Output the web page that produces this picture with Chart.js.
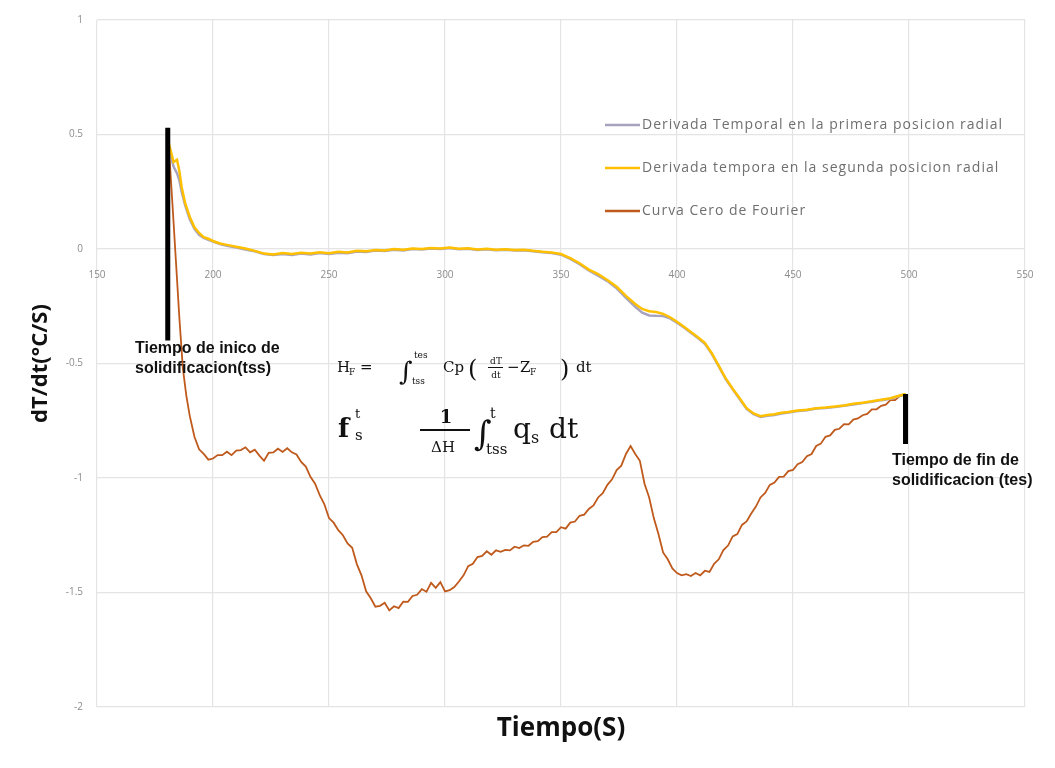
<!DOCTYPE html>
<html>
<head>
<meta charset="utf-8">
<title>Derivada temporal y curva cero de Fourier</title>
<script src="https://cdn.jsdelivr.net/npm/chart.js@4.4.1/dist/chart.umd.min.js"></script>
<style>
  html, body { margin: 0; padding: 0; background: #fff; }
  #grafica { display: block; }
</style>
</head>
<body>
<canvas id="grafica" width="1055" height="768"></canvas>
<script>
// tiempo (s) para las dos derivadas
const tDerivada = [180.3, 181.5, 183, 184.5, 185.5, 186.5, 188, 190, 192, 194, 196, 198, 200, 203, 206, 210,
  214, 218, 222, 226, 230, 234, 238, 242, 246, 250, 254, 258, 262, 266, 270, 274, 278, 282, 286, 290, 294, 298,
  302, 306, 310, 314, 318, 322, 326, 330, 334, 338, 342, 346, 350, 354, 358, 362, 366, 370, 374, 378, 382, 385,
  388, 391, 394, 397, 400, 403, 406, 409, 412, 415, 418, 421, 424, 427, 430, 433, 436, 439, 442, 445, 448, 452,
  456, 460, 464, 468, 472, 476, 480, 484, 488, 492, 496, 498.5];

// dT/dt en la primera posicion radial
const derivadaPos1 = [0.47, 0.42, 0.36, 0.33, 0.3, 0.25, 0.19, 0.13, 0.088, 0.062, 0.048, 0.04, 0.032, 0.022, 0.014, 0.006,
  -0.002, -0.01, -0.022, -0.026, -0.022, -0.026, -0.02, -0.024, -0.018, -0.022, -0.016, -0.018, -0.011, -0.013, -0.007, -0.009, -0.003, -0.006, 0.0, -0.002, 0.002, 0.0,
  0.004, -0.001, 0.001, -0.004, -0.001, -0.005, -0.003, -0.006, -0.005, -0.01, -0.014, -0.018, -0.025, -0.043, -0.066, -0.094, -0.116, -0.14, -0.172, -0.213, -0.252, -0.278,
  -0.29, -0.292, -0.293, -0.303, -0.322, -0.343, -0.366, -0.389, -0.414, -0.458, -0.513, -0.568, -0.613, -0.655, -0.698, -0.721, -0.733, -0.728, -0.725, -0.718, -0.714, -0.707,
  -0.704, -0.697, -0.694, -0.69, -0.685, -0.679, -0.673, -0.667, -0.66, -0.654, -0.642, -0.635];

// dT/dt en la segunda posicion radial
const derivadaPos2 = [0.49, 0.44, 0.38, 0.39, 0.34, 0.27, 0.2, 0.14, 0.095, 0.07, 0.052, 0.045, 0.035, 0.024, 0.018, 0.01,
  0.002, -0.008, -0.02, -0.024, -0.018, -0.022, -0.016, -0.02, -0.014, -0.018, -0.012, -0.015, -0.008, -0.01, -0.004, -0.006, 0.0, -0.003, 0.002, 0.0, 0.004, 0.002,
  0.006, 0.001, 0.003, -0.002, 0.001, -0.003, -0.001, -0.004, -0.003, -0.008, -0.012, -0.015, -0.022, -0.04, -0.062, -0.09, -0.11, -0.135, -0.165, -0.205, -0.24, -0.262,
  -0.272, -0.275, -0.283, -0.298, -0.318, -0.34, -0.362, -0.385, -0.41, -0.455, -0.51, -0.565, -0.61, -0.652, -0.695, -0.718, -0.73, -0.725, -0.722, -0.715, -0.712, -0.705,
  -0.702, -0.695, -0.692, -0.688, -0.683, -0.676, -0.671, -0.665, -0.658, -0.652, -0.64, -0.633];

// tiempo (s) y valores de la curva cero de Fourier
const tFourier = [181, 182.5, 184, 185.5, 187, 188.5, 190, 192, 194, 196, 198, 200, 202, 204, 206, 208, 210, 212, 214, 216,
  218, 220, 222, 224, 226, 228, 230, 232, 234, 236, 238, 240, 242, 244, 246, 248, 250, 252, 254, 256, 258, 260, 262, 264,
  266, 268, 270, 272, 274, 276, 278, 280, 282, 284, 286, 288, 290, 292, 294, 296, 298, 300, 302, 304, 306, 308, 310, 312,
  314, 316, 318, 320, 322, 324, 326, 328, 330, 332, 334, 336, 338, 340, 342, 344, 346, 348, 350, 352, 354, 356, 358, 360,
  362, 364, 366, 368, 370, 372, 374, 376, 378, 380, 382, 384, 386, 388, 390, 392, 394, 396, 398, 400, 402, 404, 406, 408,
  410, 412, 414, 416, 418, 420, 422, 424, 426, 428, 430, 432, 434, 436, 438, 440, 442, 444, 446, 448, 450, 452, 454, 456,
  458, 460, 462, 464, 466, 468, 470, 472, 474, 476, 478, 480, 482, 484, 486, 488, 490, 492, 494, 496, 498.5];

const curvaFourier = [0.44, 0.2, -0.05, -0.3, -0.52, -0.64, -0.73, -0.82, -0.875, -0.895, -0.92, -0.915, -0.9, -0.9, -0.885, -0.9, -0.88, -0.878, -0.866, -0.888,
  -0.876, -0.902, -0.925, -0.89, -0.888, -0.872, -0.886, -0.87, -0.888, -0.897, -0.93, -0.95, -0.995, -1.025, -1.075, -1.115, -1.175, -1.195, -1.228, -1.25, -1.286, -1.305, -1.376, -1.425,
  -1.495, -1.525, -1.562, -1.558, -1.545, -1.578, -1.56, -1.568, -1.54, -1.541, -1.515, -1.51, -1.485, -1.497, -1.458, -1.48, -1.455, -1.495, -1.49, -1.476, -1.452, -1.425, -1.385, -1.375,
  -1.345, -1.34, -1.32, -1.335, -1.316, -1.322, -1.314, -1.316, -1.3, -1.306, -1.294, -1.296, -1.279, -1.276, -1.258, -1.256, -1.236, -1.236, -1.215, -1.221, -1.195, -1.19, -1.165, -1.16,
  -1.135, -1.12, -1.085, -1.066, -1.03, -1.006, -0.965, -0.946, -0.895, -0.86, -0.895, -0.925, -1.025, -1.085, -1.175, -1.245, -1.325, -1.355, -1.395, -1.415, -1.425, -1.42, -1.428, -1.415,
  -1.425, -1.405, -1.41, -1.375, -1.355, -1.315, -1.295, -1.255, -1.245, -1.205, -1.19, -1.155, -1.125, -1.085, -1.065, -1.03, -1.02, -0.995, -0.994, -0.97, -0.965, -0.94, -0.93, -0.905,
  -0.895, -0.86, -0.85, -0.82, -0.814, -0.79, -0.785, -0.765, -0.766, -0.745, -0.74, -0.726, -0.72, -0.7, -0.7, -0.685, -0.68, -0.66, -0.66, -0.642, -0.635];

// marcas verticales de inicio (tss) y fin (tes) de solidificacion
const tInicio = 180.5;
const marcaInicio = [0.53, -0.4];
const tFin = 498.5;
const marcaFin = [-0.633, -0.852];

const aPuntos = (xs, ys) => xs.map((x, i) => ({ x: x, y: ys[i] }));

const GRIS_TICK = '#8c8c8c';
const GRID = '#e4e4e4';

// leyenda dibujada dentro del area del grafico, arriba a la derecha
const leyenda = {
  id: 'leyenda',
  afterDraw(chart) {
    const ctx = chart.ctx;
    const items = chart.data.datasets.filter(d => d.orden).sort((a, b) => a.orden - b.orden);
    ctx.save();
    ctx.font = '14px "Open Sans"';
    ctx.letterSpacing = '1px';
    ctx.textBaseline = 'middle';
    items.forEach((d, i) => {
      const y = 125 + i * 43;
      ctx.strokeStyle = d.borderColor;
      ctx.lineWidth = 2.5;
      ctx.beginPath();
      ctx.moveTo(605, y);
      ctx.lineTo(640, y);
      ctx.stroke();
      ctx.fillStyle = '#6f6f6f';
      ctx.fillText(d.label, 642, y);
    });
    ctx.restore();
  }
};

// textos de las marcas y ecuaciones
const anotaciones = {
  id: 'anotaciones',
  afterDraw(chart) {
    const ctx = chart.ctx;
    const txt = (s, x, y, font, align) => {
      ctx.font = font;
      ctx.textAlign = align || 'left';
      ctx.fillText(s, x, y);
    };
    ctx.save();
    ctx.fillStyle = '#111';
    ctx.textBaseline = 'alphabetic';
    txt('Tiempo de inico de', 135, 353, 'bold 16px "Liberation Sans"');
    txt('solidificacion(tss)', 135, 373, 'bold 16px "Liberation Sans"');
    txt('Tiempo de fin de', 892, 465, 'bold 16px "Liberation Sans"');
    txt('solidificacion (tes)', 892, 485, 'bold 16px "Liberation Sans"');

    // H_F = ∫ Cp (dT/dt - Z_F) dt
    const s15 = '15px "DejaVu Serif"', s9 = '9px "DejaVu Serif"';
    txt('H', 337, 372, s15);
    txt('F', 349, 375, s9);
    txt('=', 360, 372, s15);
    txt('\u222B', 399, 380, '26px "DejaVu Serif"');
    txt('tes', 414, 358, s9);
    txt('tss', 412, 384, s9);
    txt('Cp', 443, 372, s15);
    txt('(', 468, 377, '24px "DejaVu Serif"');
    txt('dT', 496, 364, s9, 'center');
    ctx.fillRect(488, 367, 15, 1);
    txt('dt', 496, 378, s9, 'center');
    txt('\u2212', 507, 372, s15);
    txt('Z', 520, 372, s15);
    txt('F', 530, 375, s9);
    txt(')', 560, 377, '24px "DejaVu Serif"');
    txt('dt', 576, 372, s15);

    // f_s^t = 1/ΔH ∫ q_s dt
    txt('f', 338, 437, 'bold 26px "DejaVu Serif"');
    txt('t', 355, 418, '13px "DejaVu Serif"');
    txt('s', 355, 440, '15px "DejaVu Serif"');
    txt('1', 446, 423, 'bold 18px "DejaVu Serif"', 'center');
    ctx.fillRect(420, 429, 50, 2);
    txt('\u0394H', 443, 452, '15px "DejaVu Serif"', 'center');
    txt('\u222B', 474, 445, '34px "DejaVu Serif"');
    txt('t', 490, 418, '14px "DejaVu Serif"');
    txt('tss', 486, 454, '15px "DejaVu Serif"');
    txt('q', 513, 438, '28px "DejaVu Serif"');
    txt('s', 531, 443, '16px "DejaVu Serif"');
    txt('dt', 549, 438, '28px "DejaVu Serif"');
    ctx.restore();
  }
};

new Chart(document.getElementById('grafica'), {
  type: 'line',
  data: {
    datasets: [
      {
        label: 'tss',
        data: aPuntos([tInicio, tInicio], marcaInicio),
        borderColor: '#000',
        borderWidth: 5,
        borderCapStyle: 'butt'
      },
      {
        label: 'tes',
        data: aPuntos([tFin, tFin], marcaFin),
        borderColor: '#000',
        borderWidth: 5,
        borderCapStyle: 'butt'
      },
      {
        label: 'Derivada tempora en la segunda posicion radial',
        data: aPuntos(tDerivada, derivadaPos2),
        borderColor: '#ffc000',
        borderWidth: 2.5,
        orden: 2
      },
      {
        label: 'Derivada Temporal en la primera posicion radial',
        data: aPuntos(tDerivada, derivadaPos1),
        borderColor: '#a7a3bf',
        borderWidth: 2.5,
        orden: 1
      },
      {
        label: 'Curva Cero de Fourier',
        data: aPuntos(tFourier, curvaFourier),
        borderColor: '#bf5a1c',
        borderWidth: 1.8,
        orden: 3
      }
    ]
  },
  options: {
    responsive: false,
    animation: false,
    parsing: false,
    elements: {
      point: { radius: 0 },
      line: { tension: 0, fill: false }
    },
    layout: { padding: { top: 20, right: 30, left: 0, bottom: 0 } },
    plugins: {
      legend: { display: false },
      tooltip: { enabled: false }
    },
    scales: {
      x: {
        type: 'linear',
        min: 150,
        max: 550,
        ticks: { display: false, stepSize: 50 },
        grid: { color: GRID, lineWidth: 1.2, drawTicks: false },
        border: { display: false },
        title: {
          display: true,
          text: 'Tiempo(S)',
          color: '#111',
          font: { family: '"Open Sans"', size: 26, weight: 'bold' },
          padding: { top: 0, bottom: 24 }
        },
        afterFit: s => { s.height = 61; }
      },
      xCero: {
        type: 'linear',
        axis: 'x',
        position: { y: 0 },
        min: 150,
        max: 550,
        ticks: {
          stepSize: 50,
          color: GRIS_TICK,
          padding: 12,
          font: { family: '"Open Sans"', size: 10 }
        },
        grid: { display: false },
        border: { display: false }
      },
      y: {
        type: 'linear',
        min: -2,
        max: 1,
        ticks: {
          stepSize: 0.5,
          color: GRIS_TICK,
          padding: 14,
          font: { family: '"Open Sans"', size: 10 },
          callback: v => String(v)
        },
        grid: { color: GRID, lineWidth: 1.2, drawTicks: false },
        border: { display: false },
        title: {
          display: true,
          text: 'dT/dt(\u00B0C/S)',
          color: '#111',
          font: { family: '"Open Sans"', size: 22, weight: 'bold' },
          padding: { top: 28, bottom: 0 }
        },
        afterFit: s => { s.width = 97; }
      }
    }
  },
  plugins: [leyenda, anotaciones]
});
</script>
</body>
</html>
